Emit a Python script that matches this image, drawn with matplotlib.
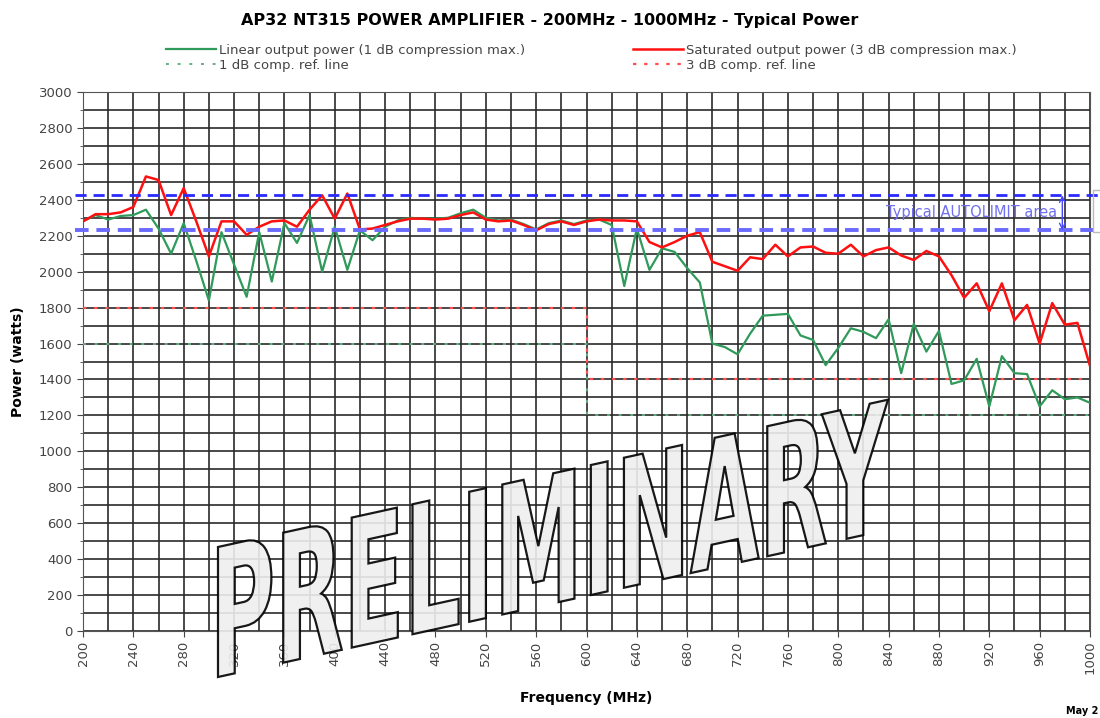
import matplotlib
matplotlib.use("Agg")
import matplotlib.pyplot as plt
from matplotlib.ticker import MultipleLocator
from matplotlib.textpath import TextPath
from matplotlib.patches import PathPatch, Rectangle
from matplotlib.font_manager import FontProperties
from matplotlib.transforms import Affine2D

plt.rcParams['font.family'] = ['DejaVu Sans']

# frequency points (MHz)
freq = [200, 210, 220, 230, 240, 250, 260, 270, 280, 290,
        300, 310, 320, 330, 340, 350, 360, 370, 380, 390,
        400, 410, 420, 430, 440, 450, 460, 470, 480, 490,
        500, 510, 520, 530, 540, 550, 560, 570, 580, 590,
        600, 610, 620, 630, 640, 650, 660, 670, 680, 690,
        700, 710, 720, 730, 740, 750, 760, 770, 780, 790,
        800, 810, 820, 830, 840, 850, 860, 870, 880, 890,
        900, 910, 920, 930, 940, 950, 960, 970, 980, 990, 1000]

# saturated output power (3 dB compression max.)
saturated = [2280, 2320, 2320, 2330, 2360, 2530, 2510, 2315, 2465, 2280,
             2085, 2280, 2280, 2205, 2250, 2280, 2285, 2250, 2345, 2425,
             2295, 2435, 2235, 2240, 2260, 2280, 2295, 2295, 2290, 2295,
             2315, 2330, 2290, 2280, 2285, 2260, 2230, 2265, 2280, 2260,
             2280, 2290, 2285, 2285, 2280, 2165, 2135, 2165, 2200, 2220,
             2055, 2030, 2005, 2080, 2070, 2150, 2085, 2135, 2140, 2105,
             2100, 2150, 2085, 2120, 2135, 2090, 2065, 2115, 2085, 1980,
             1855, 1935, 1780, 1935, 1730, 1815, 1600, 1825, 1705, 1715, 1475]

# linear output power (1 dB compression max.)
linear = [2280, 2315, 2290, 2310, 2315, 2345, 2240, 2100, 2270, 2060,
          1840, 2220, 2040, 1860, 2220, 1945, 2270, 2160, 2315, 2000,
          2250, 2010, 2230, 2175, 2250, 2285, 2300, 2295, 2295, 2300,
          2325, 2345, 2300, 2285, 2290, 2265, 2235, 2270, 2285, 2265,
          2285, 2290, 2260, 1920, 2240, 2010, 2130, 2110, 2020, 1940,
          1600, 1580, 1540, 1655, 1755, 1760, 1765, 1645, 1620, 1480,
          1575, 1685, 1665, 1630, 1735, 1435, 1710, 1555, 1670, 1375,
          1395, 1515, 1250, 1530, 1435, 1430, 1250, 1340, 1290, 1300, 1270]

# compression reference lines
ref_freq = [200, 600, 600, 1000]
ref_3db = [1800, 1800, 1400, 1400]
ref_1db = [1600, 1600, 1200, 1200]

autolimit = [2230, 2425]

W, H = 1100, 718
fig = plt.figure(figsize=(W / 100, H / 100), dpi=100)
ax = fig.add_axes([83 / W, 1 - 631 / H, (1090 - 83) / W, (631 - 92) / H])

green = '#2f9a5a'
red = '#ff1010'

l3 = ax.plot(ref_freq, ref_3db, color='#ff5050', lw=1.6, ls=(0, (1.5, 3.5)), zorder=3,
             label='3 dB comp. ref. line')[0]
l1 = ax.plot(ref_freq, ref_1db, color='#60b080', lw=1.4, ls=(0, (1.5, 4.5)), zorder=3,
             label='1 dB comp. ref. line')[0]
lg = ax.plot(freq, linear, color=green, lw=1.6, zorder=4,
             label='Linear output power (1 dB compression max.)')[0]
lr = ax.plot(freq, saturated, color=red, lw=1.8, zorder=5,
             label='Saturated output power (3 dB compression max.)')[0]

# AUTOLIMIT band
ax.axhline(autolimit[1], xmin=-0.008, xmax=1.011, color='#2a2aff', lw=2.0,
           ls=(0, (4, 2.5)), clip_on=False, zorder=6)
ax.axhline(autolimit[0], xmin=-0.008, xmax=1.011, color='#6a6aff', lw=2.8,
           ls=(0, (3.5, 2)), clip_on=False, zorder=6)
ax.annotate('', xy=(978, autolimit[0]), xytext=(978, autolimit[1]),
            arrowprops=dict(arrowstyle='<->', color='#4848ff', lw=1.0,
                            shrinkA=0, shrinkB=0), zorder=6)
ax.text(974, sum(autolimit) / 2, 'Typical AUTOLIMIT area', ha='right', va='center',
        color='#7070f0', fontsize=10.5, zorder=6)

ax.set_xlim(200, 1000)
ax.set_ylim(0, 3000)
ax.xaxis.set_major_locator(MultipleLocator(40))
ax.xaxis.set_minor_locator(MultipleLocator(20))
ax.yaxis.set_major_locator(MultipleLocator(200))
ax.yaxis.set_minor_locator(MultipleLocator(100))
ax.grid(which='both', color='#2a2a2a', lw=1.2, zorder=1)
ax.set_axisbelow(True)
ax.tick_params(axis='x', which='major', rotation=90, length=4, labelsize=9.5,
               colors='#444444', pad=3)
ax.tick_params(axis='x', which='minor', length=0)
ax.tick_params(axis='y', which='major', length=4, labelsize=9.5, colors='#444444')
ax.tick_params(axis='y', which='minor', length=2, colors='#444444')
for s in ax.spines.values():
    s.set_color('#555555')

ax.set_xlabel('Frequency (MHz)', fontsize=10, fontweight='bold', labelpad=12)
ax.set_ylabel('Power (watts)', fontsize=10, fontweight='bold', labelpad=10)

fig.text(0.5, 1 - 20 / H, 'AP32 NT315 POWER AMPLIFIER - 200MHz - 1000MHz - Typical Power',
         ha='center', va='center', fontsize=11.5, fontweight='bold')

leg_kw = dict(loc='upper left', frameon=False, fontsize=9.5, handlelength=3.8,
              handletextpad=0.25, labelspacing=0.15, borderpad=0, borderaxespad=0,
              labelcolor='#444444')
fig.legend([lg, l1], [lg.get_label(), l1.get_label()],
           bbox_to_anchor=(166 / W, 1 - 44 / H), **leg_kw)
fig.legend([lr, l3], [lr.get_label(), l3.get_label()],
           bbox_to_anchor=(633 / W, 1 - 44 / H), **leg_kw)

# right-edge box stub
fig.add_artist(Rectangle((1093 / W, 1 - 232 / H), 20 / W, 42 / H,
                         transform=fig.transFigure, fill=False,
                         edgecolor='#bbbbbb', lw=1))
fig.text(1098 / W, 1 - 711 / H, 'May 2', fontsize=7, fontweight='bold',
         va='center', ha='right')

# PRELIMINARY watermark
fp = FontProperties(family=['Liberation Sans Narrow', 'DejaVu Sans'], weight='bold')
tp = TextPath((0, 0), 'PRELIMINARY', size=1, prop=fp)
ext = tp.get_extents()
wm_tr = (Affine2D().translate(-ext.x0, -ext.y0)
         .scale(670 / ext.width, 130 / ext.height)
         .skew_deg(0, 12.4)
         .translate(218, H - 677)
         .scale(1 / W, 1 / H) + fig.transFigure)
fig.add_artist(PathPatch(tp, transform=wm_tr, facecolor='#efefef', alpha=0.9,
                         edgecolor='black', lw=1.6, zorder=10))

fig.savefig('out.png', dpi=100)
